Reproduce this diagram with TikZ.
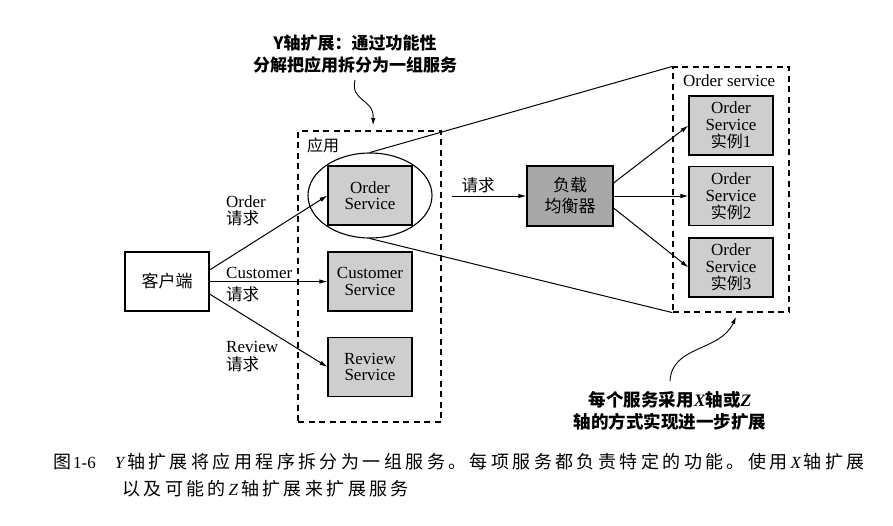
\documentclass[tikz,border=0pt]{standalone}
\usepackage{fontspec}
\setmainfont{Liberation Serif}
\newfontfamily\cjk{Noto Sans CJK SC}
\newfontfamily\cjkcapf{Noto Sans CJK SC}[LetterSpace=19]
\newcommand\cjkcap{\cjkcapf\fontsize{18}{18}\selectfont}
\usetikzlibrary{arrows.meta,shapes.geometric}
\definecolor{svcgray}{RGB}{206,206,206}
\definecolor{lbgray}{RGB}{168,168,168}
\newcommand\shili{{\cjk\fontsize{16}{17}\selectfont 实例}}
\begin{document}
\begin{tikzpicture}[x=1pt,y=-1pt,
  box/.style={draw, line width=1.1pt, minimum width=84pt, minimum height=59pt, inner sep=0pt, align=center},
  svc/.style={box, fill=svcgray, font=\fontsize{17}{16.5}\selectfont},
  inst/.style={box, fill=svcgray, font=\fontsize{17}{17}\selectfont},
  grp/.style={draw, line width=1.2pt, dash pattern=on 6pt off 4.5pt, inner sep=0pt},
  arr/.style={line width=1pt, -{Latex[length=8pt,width=4.5pt]}},
  lbl/.style={anchor=west, inner sep=0pt, font=\fontsize{17}{17}\selectfont},
  clbl/.style={anchor=west, inner sep=0pt, font=\cjk\fontsize{16.5}{17}\selectfont},
  wav/.style={line width=0.9pt, -{Latex[length=7pt,width=4.5pt]}},
  note/.style={align=center, inner sep=0pt},
  captxt/.style={anchor=west, inner sep=0pt, font=\fontsize{17}{17}\selectfont}
]
\useasboundingbox (0,0) rectangle (893,525);
\fill[white] (0,0) rectangle (893,525);

% application group
\node[grp, minimum width=143pt, minimum height=291pt] (app) at (369.5,276.5) {};
\node[anchor=west, inner sep=0pt, font=\cjk\fontsize{16}{16}\selectfont] (applbl) at (307,145) {应用};
\node[svc] (order) at (370,195.5) {Order\\Service};
\node[draw, line width=1.1pt, ellipse, minimum width=124pt, minimum height=85pt, inner sep=0pt] (ell) at (370,195.5) {};
\node[svc] (cust) at (370,281.5) {Customer\\Service};
\node[svc] (rev) at (370,367) {Review\\Service};

% client
\node[box, fill=white, font=\cjk\fontsize{17}{17}\selectfont] (client) at (167,281.5) {客户端};

% request labels
\node[lbl] (ol) at (226,202) {Order};
\node[clbl] (oq) at (226,218) {请求};
\node[lbl] (cl) at (226,273) {Customer};
\node[clbl] (cq) at (226,294) {请求};
\node[lbl] (rl) at (226,347) {Review};
\node[clbl] (rq) at (226,364) {请求};

\draw[arr] ([yshift=11.5pt]client.east) -- (order.west);
\draw[arr] (client.east) -- (cust.west);
\draw[arr] ([yshift=-12.5pt]client.east) -- (rev.west);

% order service group
\node[grp, minimum width=116pt, minimum height=245pt] (os) at (731,189.5) {};
\node[anchor=west, inner sep=0pt, font=\fontsize{17}{17}\selectfont] (oslbl) at (683,81) {Order service};
\node[inst] (i1) at (731,125.5) {Order\\Service\\\shili1};
\node[inst] (i2) at (731,196) {Order\\Service\\\shili2};
\node[inst] (i3) at (731,267.5) {Order\\Service\\\shili3};

% load balancer
\node[box, fill=lbgray, minimum width=86pt, minimum height=60pt, font=\cjk\fontsize{17}{21}\selectfont] (lb) at (570,196) {负载\\均衡器};
\coordinate (rqs) at (452,196);
\draw[arr] (rqs) -- (lb.west);
\node[inner sep=0pt, font=\cjk\fontsize{16.5}{17}\selectfont] (rql) at (478,185) {请求};

\draw[arr] ([yshift=13pt]lb.east) -- (i1.west);
\draw[arr] (lb.east) -- (i2.west);
\draw[arr] ([yshift=-12pt]lb.east) -- (i3.west);

% zoom lines
\draw[line width=1pt] (ell.north) -- (os.north west);
\draw[line width=1pt] (ell.south) -- (os.south west);

% annotations
\node[note, font=\cjk\bfseries\fontsize{17}{22}\selectfont] (ytxt) at (355,54) {Y轴扩展：通过功能性\\分解把应用拆分为一组服务};
\coordinate (w1s) at (355,80);
\coordinate (w1e) at (373,125);
\draw[wav] (w1s) .. controls (350,102) and (374,98) .. (w1e);

\node[note, font=\cjk\bfseries\fontsize{17.5}{22}\selectfont] (xz) at (670,411) {每个服务采用{\rmfamily\itshape X}轴或{\rmfamily\itshape Z}\\轴的方式实现进一步扩展};
\coordinate (w2s) at (670,381);
\coordinate (w2e) at (736,317);
\draw[wav] (w2s) .. controls (672,345) and (720,352) .. (w2e);

% caption
\node[captxt] (cap1) at (53,462) {{\cjkcap 图}\hspace{2pt}1-6\hspace{19pt}{\itshape Y}\,{\cjkcap 轴扩展将应用程序拆分为一组服务。每项服务都负责特定的功能。使用}\,{\itshape X}\,{\cjkcap 轴扩展}};
\node[captxt] (cap2) at (122,489) {{\cjkcap 以及可能的}\,{\itshape Z}\,{\cjkcap 轴扩展来扩展服务}};
\end{tikzpicture}
\end{document}
